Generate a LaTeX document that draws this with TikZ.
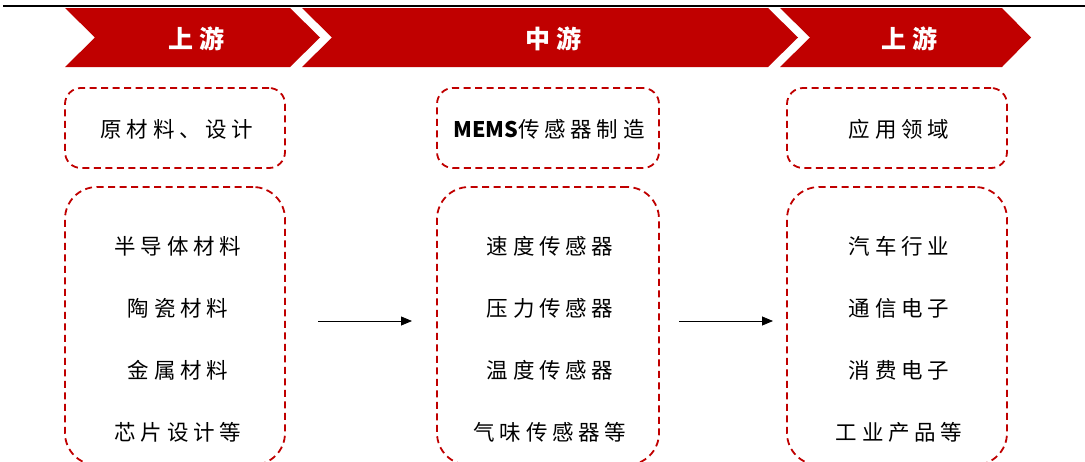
\documentclass[tikz,border=0pt]{standalone}
\usepackage{fontspec}
\newfontfamily\cjk[LetterSpace=22]{Noto Sans CJK SC}
\newfontfamily\cjkplain{Noto Sans CJK SC}
\newfontfamily\cjkhd[LetterSpace=24]{Noto Sans CJK SC}
\usetikzlibrary{arrows.meta}
\definecolor{hdred}{HTML}{C00000}
\tikzset{
  hdtext/.style={text=white, font=\cjkhd\fontsize{25}{28}\selectfont\bfseries},
  dbox/.style={draw=hdred, line width=1.8pt, dash pattern=on 7pt off 4.5pt, rounded corners=#1, inner sep=0pt},
  itemtxt/.style={font=\cjk\fontsize{21.5}{24}\selectfont, text=black},
  flow/.style={line width=0.8pt, -{Triangle[length=11pt,width=9pt]}}
}
\begin{document}
\begin{tikzpicture}[x=1pt,y=-1pt]
\useasboundingbox (0,0) rectangle (1085,461);
\clip (0,0) rectangle (1085,461);
\fill[white] (0,0) rectangle (1085,461);
% top rule
\draw[line width=2pt] (3,6) -- (1085,6);
% header chevrons
\fill[hdred] (65,8) -- (290,8) -- (320,37.5) -- (290,67) -- (65,67) -- (95,37.5) -- cycle;
\fill[hdred] (302,8) -- (768,8) -- (798,37.5) -- (768,67) -- (302,67) -- (332,37.5) -- cycle;
\fill[hdred] (780,8) -- (1002,8) -- (1031,37.5) -- (1002,67) -- (780,67) -- (810,37.5) -- cycle;
\node[hdtext] (h1) at (196,39) {上游};
\node[hdtext] (h2) at (553,39) {中游};
\node[hdtext] (h3) at (909,39) {上游};
% top boxes
\node[dbox=16pt, minimum width=220pt, minimum height=80pt] (lt) at (175,128) {};
\node[dbox=16pt, minimum width=222pt, minimum height=80pt] (mt) at (548,128) {};
\node[dbox=16pt, minimum width=220pt, minimum height=80pt] (rt) at (897,128) {};
\node[itemtxt] (ltt) at (177,129) {原材料、设计};
\node[itemtxt] (mtt) at (549,129) {{\cjkplain\bfseries MEMS}传感器制造};
\node[itemtxt] (rtt) at (899,129) {应用领域};
% bottom boxes
\node[dbox=32pt, minimum width=220pt, minimum height=278pt] (lb) at (175,326) {};
\node[dbox=32pt, minimum width=222pt, minimum height=278pt] (mb) at (548,326) {};
\node[dbox=32pt, minimum width=220pt, minimum height=278pt] (rb) at (897,326) {};
% items
\node[itemtxt] (l1) at (178,246) {半导体材料};
\node[itemtxt] (l2) at (178,308) {陶瓷材料};
\node[itemtxt] (l3) at (178,370) {金属材料};
\node[itemtxt] (l4) at (178,432) {芯片设计等};
\node[itemtxt] (m1) at (550,246) {速度传感器};
\node[itemtxt] (m2) at (550,308) {压力传感器};
\node[itemtxt] (m3) at (550,370) {温度传感器};
\node[itemtxt] (m4) at (550,432) {气味传感器等};
\node[itemtxt] (r1) at (899,246) {汽车行业};
\node[itemtxt] (r2) at (899,308) {通信电子};
\node[itemtxt] (r3) at (899,370) {消费电子};
\node[itemtxt] (r4) at (899,432) {工业产品等};
% arrows
\coordinate (a1s) at (318,321);
\coordinate (a1e) at (412,321);
\coordinate (a2s) at (679,321);
\coordinate (a2e) at (773,321);
\draw[flow] (a1s) -- (a1e);
\draw[flow] (a2s) -- (a2e);
\end{tikzpicture}
\end{document}
